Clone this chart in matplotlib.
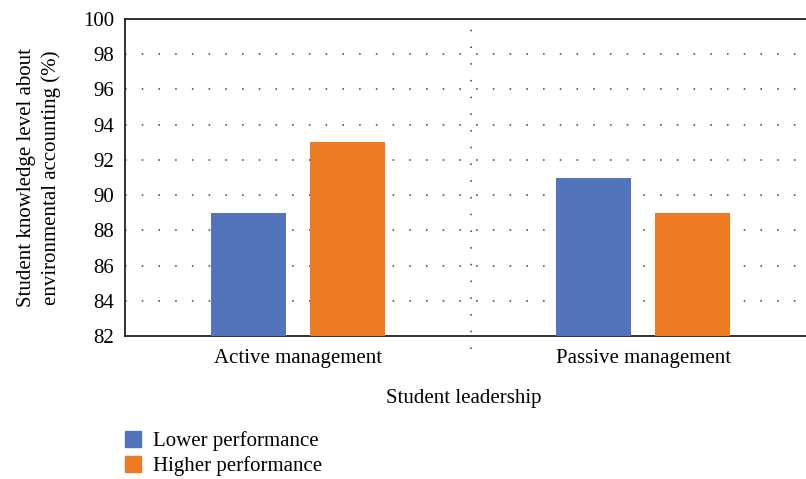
import numpy as np
import matplotlib.pyplot as plt
from matplotlib.patches import Patch

plt.rcParams['font.family'] = ['Liberation Serif', 'DejaVu Serif']

categories = ["Active management", "Passive management"]
series_names = ["Lower performance", "Higher performance"]
lower = [89, 91]
higher = [93, 89]
yticks = [82, 84, 86, 88, 90, 92, 94, 96, 98, 100]

blue = "#5374BB"
orange = "#EE7B24"
fs = 15

fig = plt.figure(figsize=(8.06, 4.79), dpi=100)
ax = fig.add_axes([125 / 806, 1 - 336 / 479, 691 / 806, 317 / 479])

x = np.arange(len(categories))
w = 0.217
off = 0.1435
ax.bar(x - off, lower, w, color=blue, zorder=3)
ax.bar(x + off, higher, w, color=orange, zorder=3)

ax.set_xlim(-0.5, 1.5)
ax.set_ylim(82, 100)
ax.set_yticks(yticks)
ax.set_xticks(x)
ax.set_xticklabels(categories)
ax.tick_params(axis='both', length=0, labelsize=fs, pad=8)
ax.tick_params(axis='x', pad=9)

for y in yticks[1:-1]:
    ax.axhline(y, color="#666666", lw=1.4, ls=(0, (0.8, 7.8)), zorder=1)
ax.axvline(0.5, ymin=-0.04, ymax=1, color="#666666", lw=1.4,
           ls=(0, (0.8, 7.8)), zorder=1, clip_on=False)

for s in ["left", "bottom", "top"]:
    ax.spines[s].set_color("#222222")
    ax.spines[s].set_linewidth(1.3)
ax.spines["right"].set_visible(False)

ax.set_ylabel("Student knowledge level about\nenvironmental accounting (%)",
              fontsize=fs, labelpad=16, linespacing=1.3)
fig.text(464 / 806, 1 - 398 / 479, "Student leadership", fontsize=fs,
         ha="center", va="center")

handles = [Patch(color=blue), Patch(color=orange)]
fig.legend(handles, series_names, loc="upper left",
           bbox_to_anchor=(108 / 806, 1 - 414 / 479), frameon=False,
           fontsize=fs, handlelength=0.8, handleheight=0.8,
           handletextpad=0.55, labelspacing=0.25, borderpad=0.3)

fig.savefig("out.png", dpi=100)
